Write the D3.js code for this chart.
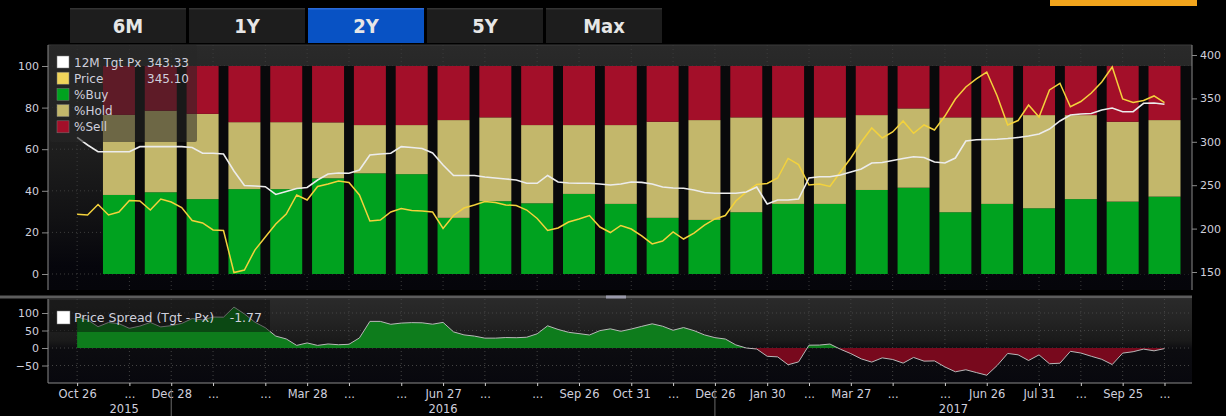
<!DOCTYPE html>
<html><head><meta charset="utf-8">
<script src="https://cdn.jsdelivr.net/npm/d3@7"></script>
<style>
html,body{margin:0;padding:0;background:#000;}
svg{display:block;}
text{font-family:"DejaVu Sans",sans-serif;}
.btn{font-family:"DejaVu Sans Condensed","DejaVu Sans",sans-serif;font-stretch:condensed;}
</style></head>
<body>
<svg id="c" width="1226" height="416"></svg>
<script>
// ---------------- DATA ----------------
const rangeButtons = ["6M","1Y","2Y","5Y","Max"];
const activeButton = "2Y";

const barDates = ["2015-11-23","2015-12-21","2016-01-18","2016-02-15","2016-03-14","2016-04-11","2016-05-09","2016-06-06","2016-07-04","2016-08-01","2016-08-29","2016-09-26","2016-10-24","2016-11-21","2016-12-19","2017-01-16","2017-02-13","2017-03-13","2017-04-10","2017-05-08","2017-06-05","2017-07-03","2017-07-31","2017-08-28","2017-09-25","2017-10-23"];
const pctBuy  = [38,39.3,36,40.8,40.8,46,48.4,48,27,35,34,38.5,33.7,27,26,29.7,33.7,33.7,40.4,41.5,29.7,33.7,31.6,36,34.8,37.2];
const pctHold = [38.5,39.2,41,32.2,32.2,26.9,23.2,23.6,47,40.3,37.6,33.1,37.9,46.2,48,45.6,41.6,41.6,36,38.1,45.6,41.6,44.8,40.4,38.4,36.8];
const pctSell = [23.5,21.5,23,27,27,27.1,28.4,28.4,26,24.7,28.4,28.4,28.4,26.8,26,24.7,24.7,24.7,23.6,20.4,24.7,24.7,23.6,23.6,26.8,26];

const weekStart = "2015-10-26", weekEnd = "2017-10-23";
const tgtPx = [305.0,296.3,288.6,288.6,288.6,288.6,294.4,294.4,294.4,294.4,294.4,293.4,286.8,286.8,285.9,266.4,249.7,249.1,248.3,239.3,242.7,246.2,247.4,256.0,262.9,264.1,263.7,267.5,284.8,285.9,286.8,294.4,293.4,292.3,287.1,273.3,261.2,261.2,261.2,259.4,258.3,257.1,256.0,252.2,252.2,261.2,253.7,252.5,252.2,252.2,251.4,250.2,251.4,253.7,253.3,251.4,247.9,246.8,246.4,244.5,241.6,240.7,240.7,240.7,242.2,247.9,228.3,232.9,232.9,234.1,258.3,259.8,259.8,261.8,265.2,268.7,275.6,276.2,278.5,280.8,282.8,281.9,276.7,275.6,281.3,300.9,302.3,302.6,302.9,303.8,305.0,306.7,309.0,314.7,324.0,330.9,332.0,332.6,336.6,338.9,334.7,334.7,344.4,344.7,343.33];
const price = [216.5,215.7,227.8,215.7,219.1,232.4,231.8,221.4,234.1,230.6,224.3,209.3,206.5,198.4,197.8,149.4,152.3,175.3,190.3,205.3,216.8,238.7,232.9,248.5,251.4,254.8,253.1,238.7,208.8,209.9,219.1,223.2,220.9,220.3,219.1,200.1,215.1,223.7,227.2,231.2,230.1,227.2,226.6,221.4,211.6,197.8,200.7,207.6,211.1,215.1,201.8,195.5,203.6,199.5,191.5,182.3,185.7,196.1,188.0,194.9,204.1,211.1,215.1,231.8,242.2,250.8,252.0,258.3,280.8,273.8,250.2,251.4,248.5,265.2,281.3,299.8,315.9,304.4,311.3,324.0,309.8,319.4,313.6,329.7,349.3,363.1,372.4,380.4,352.8,319.4,324.5,342.4,328.6,359.7,367.4,340.4,346.4,356.2,368.9,386.2,349.3,345.3,347.6,352.8,345.10];

const leftTicks = [0,20,40,60,80,100];
const rightTicks = [150,200,250,300,350,400];
const spreadTicks = [-50,0,50,100];
const xLabelDates = ["2015-10-26","2015-11-30","2015-12-28","2016-01-25","2016-02-29","2016-03-28","2016-04-25","2016-05-30","2016-06-27","2016-07-25","2016-08-29","2016-09-26","2016-10-31","2016-11-28","2016-12-26","2017-01-30","2017-02-27","2017-03-27","2017-04-24","2017-05-29","2017-06-26","2017-07-31","2017-08-28","2017-09-25","2017-10-23"];
const xLabels = ["Oct 26","...","Dec 28","...","...","Mar 28","...","...","Jun 27","...","...","Sep 26","Oct 31","...","Dec 26","Jan 30","...","Mar 27","...","...","Jun 26","Jul 31","...","Sep 25","..."];
const yearLabels = ["2015","2016","2017"];
const yearBreaks = ["2015-12-28","2016-12-26"];

// ---------------- SETUP ----------------
const parse = d3.timeParse("%Y-%m-%d");
const svg = d3.select("#c");
const L = 48, R = 1192;
const topY0 = 45, topY1 = 290;
const botY0 = 299, botY1 = 383;

const x = d3.scaleTime()
  .domain([new Date(2015,9,6,12), new Date(2017,10,10,10)])
  .range([L, R]);
const yPct = d3.scaleLinear().domain([0,100]).range([274,66]);
const yPx = d3.scaleLinear().domain([150,400]).range([272,55]);
const ySp = d3.scaleLinear().domain([-50,100]).range([365.5,313]);

const weeks = d3.timeMonday.range(parse(weekStart), d3.timeDay.offset(parse(weekEnd),1));
const series = weeks.map((d,i)=>({d, tgt:tgtPx[i], px:price[i], sp:tgtPx[i]-price[i]}));

const defs = svg.append("defs");
const g1 = defs.append("linearGradient").attr("id","gTop").attr("x1",0).attr("x2",0).attr("y1",0).attr("y2",1);
[[0,"#2a2a2a"],[0.45,"#1d1d1d"],[0.72,"#111113"],[0.9,"#06060c"],[1,"#05050a"]].forEach(s=>g1.append("stop").attr("offset",s[0]).attr("stop-color",s[1]));
const g2 = defs.append("linearGradient").attr("id","gBot").attr("x1",0).attr("x2",0).attr("y1",0).attr("y2",1);
[[0,"#2a2a2a"],[0.25,"#242424"],[0.5,"#1a1a1a"],[0.6,"#0c0c10"],[1,"#08080e"]].forEach(s=>g2.append("stop").attr("offset",s[0]).attr("stop-color",s[1]));
defs.append("clipPath").attr("id","clipPos").append("rect").attr("x",L).attr("y",botY0).attr("width",R-L).attr("height",ySp(0)-botY0);
defs.append("clipPath").attr("id","clipNeg").append("rect").attr("x",L).attr("y",ySp(0)).attr("width",R-L).attr("height",botY1-ySp(0));

// ---------------- BUTTONS ----------------
const btnX = d3.scaleBand().domain(rangeButtons).range([70,662]).paddingInner(0.025);
const btn = svg.append("g").selectAll("g").data(rangeButtons).join("g");
btn.append("rect").attr("x",d=>btnX(d)).attr("y",8).attr("width",btnX.bandwidth()).attr("height",35)
  .attr("fill",d=>d===activeButton?"#0852c4":"#1d1d1d");
btn.append("rect").attr("x",d=>btnX(d)).attr("y",8).attr("width",btnX.bandwidth()).attr("height",1.5)
  .attr("fill",d=>d===activeButton?"#2a6ad8":"#333");
btn.append("text").attr("class","btn").attr("x",d=>btnX(d)+btnX.bandwidth()/2).attr("y",33).attr("text-anchor","middle")
  .attr("fill","#e6e6e6").attr("font-size",20).attr("font-weight","bold").text(d=>d);
svg.append("rect").attr("x",1050).attr("y",0).attr("width",147).attr("height",6).attr("fill","#f2a51c");

// ---------------- TOP PANEL ----------------
svg.append("rect").attr("x",L).attr("y",topY0).attr("width",R-L).attr("height",topY1-topY0).attr("fill","url(#gTop)");
svg.append("line").attr("x1",L).attr("x2",R).attr("y1",topY0).attr("y2",topY0).attr("stroke","#3a3a3a");
const gridTop = svg.append("g");
gridTop.selectAll("line.v").data(xLabelDates).join("line").attr("class","v")
  .attr("x1",d=>x(parse(d))).attr("x2",d=>x(parse(d))).attr("y1",topY0).attr("y2",topY1)
  .attr("stroke","#3c3c3c").attr("stroke-dasharray","1,3");
gridTop.selectAll("line.h").data(leftTicks).join("line").attr("class","h")
  .attr("x1",L).attr("x2",R).attr("y1",d=>yPct(d)).attr("y2",d=>yPct(d))
  .attr("stroke","#3c3c3c").attr("stroke-dasharray","1,3");

const bars = barDates.map((d,i)=>({d:parse(d), buy:pctBuy[i], hold:pctHold[i], sell:pctSell[i]}));
const slot = x(bars[1].d)-x(bars[0].d);
const bw = slot*0.765;
svg.append("rect").attr("x",x(bars[0].d)-bw/2).attr("y",yPct(100))
  .attr("width",(R - (x(bars[0].d)-bw/2))).attr("height",yPct(0)-yPct(100)).attr("fill","#09090b");
const stack = d3.stack().keys(["buy","hold","sell"])(bars);
const colors = {buy:"#00a21f", hold:"#c3b76b", sell:"#a30f29"};
svg.append("g").selectAll("g").data(stack).join("g").attr("fill",s=>colors[s.key])
  .selectAll("rect").data(s=>s).join("rect")
  .attr("x",d=>x(d.data.d)-bw/2).attr("width",bw)
  .attr("y",d=>yPct(d[1])).attr("height",d=>yPct(d[0])-yPct(d[1]));

const lineT = d3.line().x(d=>x(d.d)).y(d=>yPx(d.tgt));
const lineP = d3.line().x(d=>x(d.d)).y(d=>yPx(d.px));
svg.append("path").datum(series).attr("d",lineP).attr("fill","none").attr("stroke","#f3d23c").attr("stroke-width",1.5);
svg.append("path").datum(series).attr("d",lineT).attr("fill","none").attr("stroke","#ececec").attr("stroke-width",1.6);

const axisColor = "#8a8a8a", lblColor = "#cfcfdc";
svg.append("line").attr("x1",L).attr("x2",L).attr("y1",topY0).attr("y2",topY1).attr("stroke",axisColor);
svg.append("line").attr("x1",R).attr("x2",R).attr("y1",topY0).attr("y2",topY1).attr("stroke",axisColor);
const la = svg.append("g").attr("transform",`translate(${L},0)`)
  .call(d3.axisLeft(yPct).tickValues(leftTicks).tickSize(6).tickPadding(3));
const ra = svg.append("g").attr("transform",`translate(${R},0)`)
  .call(d3.axisRight(yPx).tickValues(rightTicks).tickSize(5).tickPadding(3));
[la,ra].forEach(a=>{a.select(".domain").remove();a.selectAll("line").attr("stroke",axisColor);
  a.selectAll("text").attr("fill",lblColor).attr("font-size",11).attr("font-family",null);});

// legend top
const legT = svg.append("g");
legT.append("rect").attr("x",50).attr("y",45).attr("width",147).attr("height",97).attr("fill","rgba(38,38,38,0.55)").attr("rx",2);
const legItems = [
  {c:"#ffffff", t:"12M Tgt Px", v:tgtPx[tgtPx.length-1].toFixed(2)},
  {c:"#f0d45a", t:"Price", v:price[price.length-1].toFixed(2)},
  {c:colors.buy, t:"%Buy", v:""},
  {c:colors.hold, t:"%Hold", v:""},
  {c:colors.sell, t:"%Sell", v:""}];
const li = legT.selectAll("g").data(legItems).join("g").attr("transform",(d,i)=>`translate(0,${62+i*16.2})`);
li.append("rect").attr("x",57).attr("y",-6).attr("width",12).attr("height",12).attr("fill",d=>d.c).attr("stroke","#777").attr("stroke-width",0.5);
li.append("text").attr("x",74).attr("y",4.5).attr("fill",lblColor).attr("font-size",12).text(d=>d.t);
li.append("text").attr("x",189).attr("y",4.5).attr("text-anchor","end").attr("fill",lblColor).attr("font-size",12).text(d=>d.v);

// divider
svg.append("rect").attr("x",0).attr("y",295.5).attr("width",R).attr("height",3).attr("fill","#5c5c5c");
svg.append("rect").attr("x",606).attr("y",295.5).attr("width",20).attr("height",3).attr("fill","#9a9aaa");

// ---------------- BOTTOM PANEL ----------------
svg.append("rect").attr("x",L).attr("y",botY0).attr("width",R-L).attr("height",botY1-botY0).attr("fill","url(#gBot)");
const gridBot = svg.append("g");
gridBot.selectAll("line.v").data(xLabelDates).join("line").attr("class","v")
  .attr("x1",d=>x(parse(d))).attr("x2",d=>x(parse(d))).attr("y1",botY0).attr("y2",botY1)
  .attr("stroke","#444").attr("stroke-dasharray","1,3");
gridBot.selectAll("line.h").data(spreadTicks).join("line").attr("class","h")
  .attr("x1",L).attr("x2",R).attr("y1",d=>ySp(d)).attr("y2",d=>ySp(d))
  .attr("stroke","#444").attr("stroke-dasharray","1,3");

const areaSp = d3.area().x(d=>x(d.d)).y0(ySp(0)).y1(d=>ySp(d.sp));
svg.append("path").datum(series).attr("d",areaSp).attr("fill","#0e7c1c").attr("clip-path","url(#clipPos)");
svg.append("path").datum(series).attr("d",areaSp).attr("fill","#78091d").attr("clip-path","url(#clipNeg)");
svg.append("path").datum(series).attr("d",d3.line().x(d=>x(d.d)).y(d=>ySp(d.sp)))
  .attr("fill","none").attr("stroke","#b8b8b8").attr("stroke-width",1);

svg.append("line").attr("x1",L).attr("x2",L).attr("y1",botY0).attr("y2",botY1).attr("stroke",axisColor);
const sa = svg.append("g").attr("transform",`translate(${L},0)`)
  .call(d3.axisLeft(ySp).tickValues(spreadTicks).tickSize(6).tickPadding(3));
sa.select(".domain").remove(); sa.selectAll("line").attr("stroke",axisColor);
sa.selectAll("text").attr("fill",lblColor).attr("font-size",11).attr("font-family",null);

// legend bottom
const legB = svg.append("g");
legB.append("rect").attr("x",50).attr("y",300).attr("width",220).attr("height",32).attr("fill","rgba(8,8,8,0.45)");
legB.append("rect").attr("x",57).attr("y",311).attr("width",13).attr("height",13).attr("fill","#fff").attr("stroke","#777").attr("stroke-width",0.5);
legB.append("text").attr("x",74).attr("y",322).attr("fill",lblColor).attr("font-size",12.5).text("Price Spread (Tgt - Px)");
legB.append("text").attr("x",262).attr("y",322).attr("text-anchor","end").attr("fill",lblColor).attr("font-size",12.5)
  .text((tgtPx[tgtPx.length-1]-price[price.length-1]).toFixed(2));

// x axis
svg.append("line").attr("x1",L).attr("x2",R).attr("y1",botY1).attr("y2",botY1).attr("stroke",axisColor);
const xa = svg.append("g").attr("transform",`translate(0,${botY1})`)
  .call(d3.axisBottom(x).tickValues(xLabelDates.map(parse)).tickSize(3).tickPadding(4)
    .tickFormat((d,i)=>xLabels[i]));
xa.select(".domain").remove(); xa.selectAll("line").attr("stroke","#cfcfcf");
xa.selectAll("text").attr("fill",lblColor).attr("font-size",11.5).attr("font-family",null);

const yb = yearBreaks.map(d=>x(parse(d)));
svg.selectAll("line.yb").data(yb).join("line").attr("class","yb")
  .attr("x1",d=>d).attr("x2",d=>d).attr("y1",389).attr("y2",416).attr("stroke","#6a6a6a");
const yCenters = [(x(parse(weekStart))+yb[0])/2, (yb[0]+yb[1])/2, (yb[1]+R)/2];
svg.selectAll("text.yr").data(yearLabels).join("text").attr("class","yr")
  .attr("x",(d,i)=>yCenters[i]).attr("y",413).attr("text-anchor","middle")
  .attr("fill",lblColor).attr("font-size",11.5).text(d=>d);
</script>
</body></html>
